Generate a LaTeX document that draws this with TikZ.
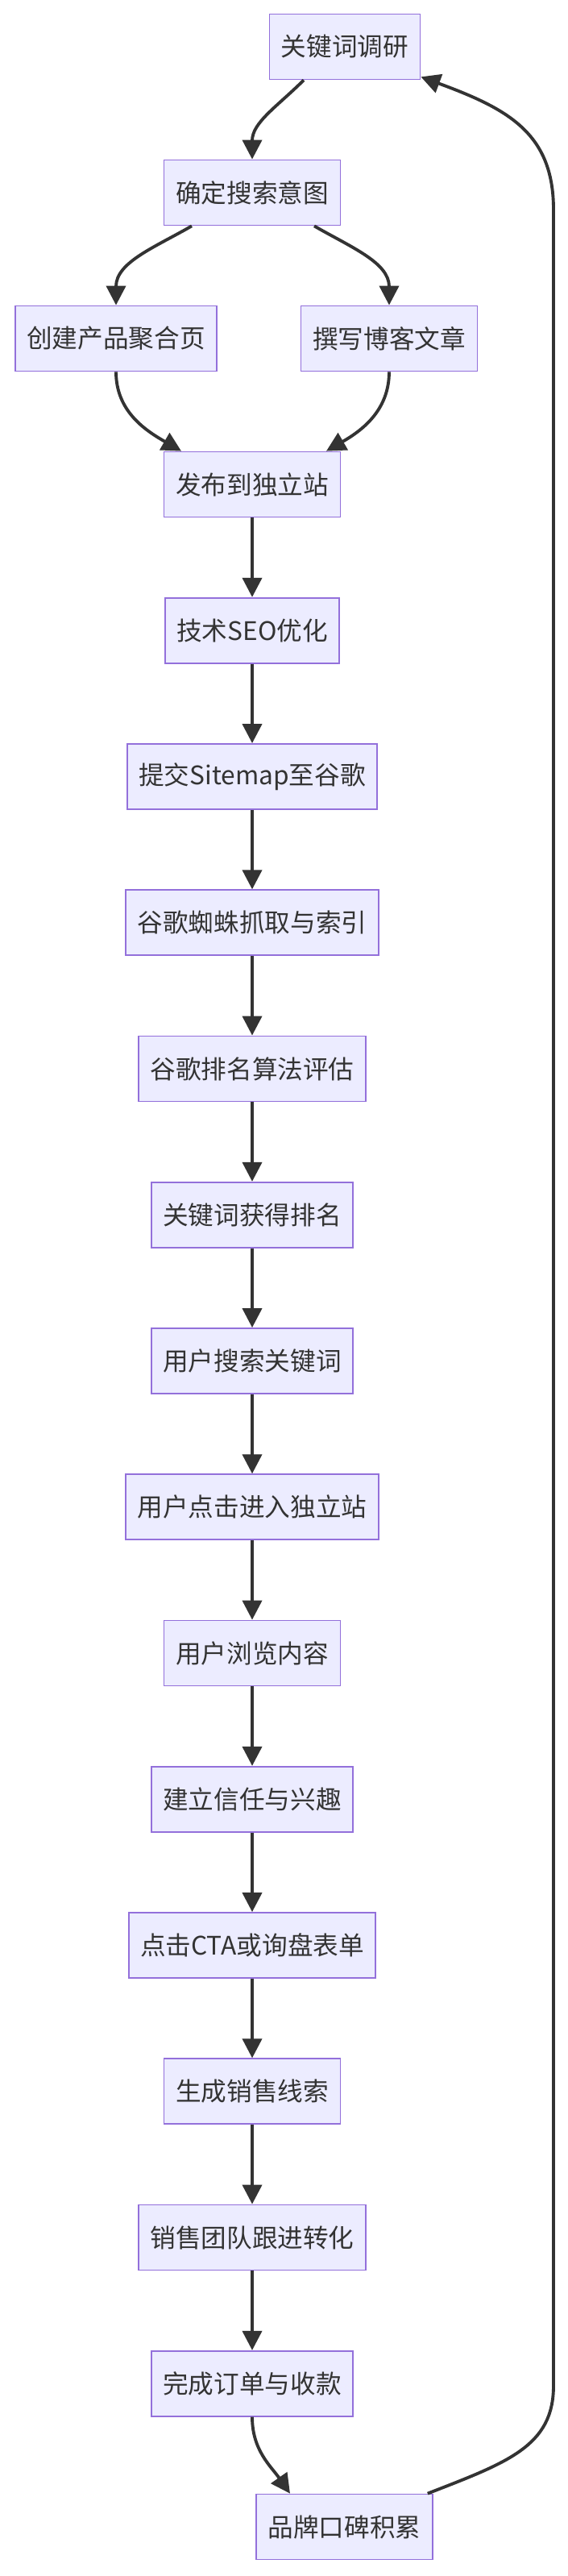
\documentclass[tikz,border=0pt]{standalone}
\usepackage{fontspec}
\setmainfont{Noto Sans CJK SC}
\usetikzlibrary{positioning,arrows.meta}
\definecolor{boxfill}{HTML}{ECECFF}
\definecolor{boxline}{HTML}{9370DB}
\definecolor{ink}{HTML}{333333}

\begin{document}
\begin{tikzpicture}[
  font=\fontsize{18}{22}\selectfont,
  box/.style={draw=boxline, fill=boxfill, line width=1pt, text=ink,
              minimum height=1.62cm, inner xsep=0.29cm, inner ysep=3pt},
  arr/.style={-{Triangle[length=0.48cm, width=0.48cm]}, draw=ink, line width=2.2pt},
]
\useasboundingbox (0,0) rectangle (14.08,-63.92);

% ---- research and content ---------------------------------------
\node[box] (kw)     at (8.56,-1.16)   {关键词调研};
\node[box] (intent) at (6.26,-4.78)   {确定搜索意图};
\node[box] (agg)    at (2.88,-8.40)   {创建产品聚合页};
\node[box] (blog)   at (9.66,-8.40)   {撰写博客文章};
\node[box] (pub)    at (6.26,-12.02)  {发布到独立站};

% ---- main spine -------------------------------------------------
\node[box] (seo)     at (6.26,-15.645) {技术SEO优化};
\node[box] (smap)    at (6.26,-19.27)  {提交Sitemap至谷歌};
\node[box] (crawl)   at (6.26,-22.895) {谷歌蜘蛛抓取与索引};
\node[box] (rank)    at (6.26,-26.52)  {谷歌排名算法评估};
\node[box] (kwrank)  at (6.26,-30.145) {关键词获得排名};
\node[box] (usearch) at (6.26,-33.77)  {用户搜索关键词};
\node[box] (uclick)  at (6.26,-37.395) {用户点击进入独立站};
\node[box] (browse)  at (6.26,-41.02)  {用户浏览内容};
\node[box] (trust)   at (6.26,-44.645) {建立信任与兴趣};
\node[box] (cta)     at (6.26,-48.27)  {点击CTA或询盘表单};
\node[box] (lead)    at (6.26,-51.895) {生成销售线索};
\node[box] (follow)  at (6.26,-55.52)  {销售团队跟进转化};
\node[box] (order)   at (6.26,-59.145) {完成订单与收款};
\node[box] (brand)   at (8.55,-62.70)  {品牌口碑积累};

% ---- branch arrows ----------------------------------------------
\draw[arr] ([xshift=-1.02cm]kw.south) to[out=-135, in=90] (intent.north);
\draw[arr] ([xshift=-1.5cm]intent.south) to[out=-150, in=90] (agg.north);
\draw[arr] ([xshift=1.54cm]intent.south) to[out=-30, in=90] (blog.north);
\draw[arr] (agg.south) to[out=-90, in=150] ([xshift=-1.76cm]pub.north);
\draw[arr] (blog.south) to[out=-90, in=30] ([xshift=1.84cm]pub.north);

% ---- spine arrows -----------------------------------------------
\draw[arr] (pub)     -- (seo);
\draw[arr] (seo)     -- (smap);
\draw[arr] (smap)    -- (crawl);
\draw[arr] (crawl)   -- (rank);
\draw[arr] (rank)    -- (kwrank);
\draw[arr] (kwrank)  -- (usearch);
\draw[arr] (usearch) -- (uclick);
\draw[arr] (uclick)  -- (browse);
\draw[arr] (browse)  -- (trust);
\draw[arr] (trust)   -- (cta);
\draw[arr] (cta)     -- (lead);
\draw[arr] (lead)    -- (follow);
\draw[arr] (follow)  -- (order);
\draw[arr] (order.south) to[out=-90, in=125] ([xshift=-1.35cm]brand.north);

% ---- back to research -------------------------------------------
\draw[arr] ([xshift=-0.14cm]brand.north east)
  .. controls (12.6,-61.1) and (13.74,-60.7) .. (13.74,-59.2)
  -- (13.74,-5.2)
  .. controls (13.74,-3.3) and (12.6,-2.7) .. ([yshift=0.08cm]kw.south east);

\end{tikzpicture}
\end{document}
